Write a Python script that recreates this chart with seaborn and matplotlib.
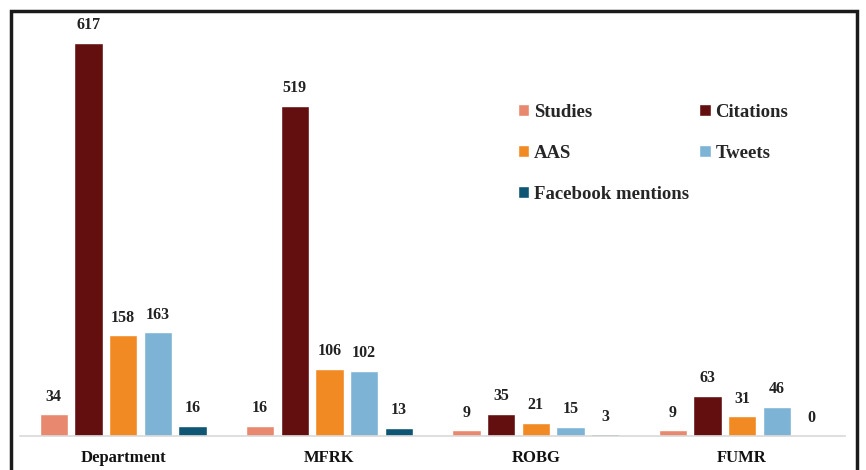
import numpy as np
import matplotlib.pyplot as plt
import pandas as pd
import seaborn as sns
from matplotlib.patches import Rectangle

groups = ['Department', 'MFRK', 'ROBG', 'FUMR']
series = ['Studies', 'Citations', 'AAS', 'Tweets', 'Facebook mentions']
studies = [34, 16, 9, 9]
citations = [617, 519, 35, 63]
aas = [158, 106, 21, 31]
tweets = [163, 102, 15, 46]
facebook = [16, 13, 3, 0]
colors = ['#E8896F', '#640F0F', '#F28A24', '#7DB4D6', '#0E5674']

# long format for seaborn
values = [studies, citations, aas, tweets, facebook]
df = pd.DataFrame({
    'group': np.tile(groups, len(series)),
    'series': np.repeat(series, len(groups)),
    'value': np.concatenate(values),
})

sns.set_style('white')
plt.rcParams['font.family'] = ['Liberation Serif', 'DejaVu Serif']
plt.rcParams['font.weight'] = 'bold'

fig = plt.figure(figsize=(8.66, 4.70), dpi=100)
ax = fig.add_axes([0.023, 0.072, 0.953, 0.896])

sns.barplot(data=df, x='group', y='value', hue='series', order=groups,
            hue_order=series, palette=colors, width=0.84, gap=0.18,
            saturation=1, ax=ax, legend=True)

for c in ax.containers:
    ax.bar_label(c, padding=7, fontsize=11.5, fontweight='bold', color='#222222')

ax.set_xlim(-0.5, 3.5)
ax.set_ylim(0, 661)
ax.set_xlabel('')
ax.set_ylabel('')
ax.set_yticks([])
ax.tick_params(axis='x', length=0, pad=10, labelsize=12)
for t in ax.get_xticklabels():
    t.set_fontweight('bold')
    t.set_color('#111111')
for s in ['top', 'right', 'left']:
    ax.spines[s].set_visible(False)
ax.spines['bottom'].set_color('#D9D9D9')
ax.spines['bottom'].set_linewidth(1.2)

# legend: two columns, reorder so rows read Studies/Citations, AAS/Tweets, Facebook
h, l = ax.get_legend_handles_labels()
idx = [0, 2, 4, 1, 3]
ax.legend([h[i] for i in idx], [l[i] for i in idx], ncol=2, frameon=False,
          loc='upper left', bbox_to_anchor=(0.583, 0.83),
          prop={'size': 13.5, 'weight': 'bold'}, handlelength=0.6,
          handleheight=0.6, handletextpad=0.25, labelspacing=1.28,
          columnspacing=0.55)

# black frame around the chart
fig.patches.append(Rectangle((11 / 866, -0.02), 846 / 866, 1 - 11 / 470 + 0.02,
                             transform=fig.transFigure, fill=False,
                             edgecolor='#1a1a1a', linewidth=2.5))

fig.savefig('out.png', dpi=100)
